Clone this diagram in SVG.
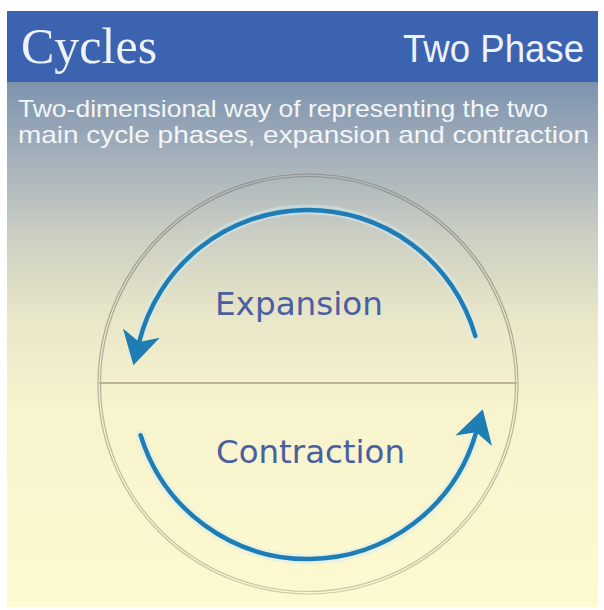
<svg xmlns="http://www.w3.org/2000/svg" width="604" height="610" viewBox="0 0 604 610">
  <defs>
    <linearGradient id="bg" x1="0" y1="82" x2="0" y2="607" gradientUnits="userSpaceOnUse">
      <stop offset="0" stop-color="#7d93ae"/>
      <stop offset="0.14" stop-color="#a3b0bb"/>
      <stop offset="0.3" stop-color="#cdd0c3"/>
      <stop offset="0.45" stop-color="#e9e7c9"/>
      <stop offset="0.62" stop-color="#f7f3cd"/>
      <stop offset="1" stop-color="#fdf9d0"/>
    </linearGradient>
    <linearGradient id="ring" x1="0" y1="174" x2="0" y2="594" gradientUnits="userSpaceOnUse">
      <stop offset="0" stop-color="#8e9290"/>
      <stop offset="0.5" stop-color="#b4ae98"/>
      <stop offset="1" stop-color="#cfc6a6"/>
    </linearGradient>
    <marker id="arrow" markerUnits="userSpaceOnUse" markerWidth="40" markerHeight="44" viewBox="0 -22 40 44" refX="9" refY="0" orient="auto">
      <path d="M0,-19 L33,0 L0,19 L9,0 Z" fill="#1f7db6"/>
    </marker>
    <style>
      .title { font-family: "Liberation Serif", "Times New Roman", serif; font-size: 50px; fill: #eef2fa; }
      .phase { font-family: "Liberation Sans", Arial, sans-serif; font-size: 38px; fill: #eef2fa; }
      .sub { font-family: "Liberation Sans", Arial, sans-serif; font-size: 24px; fill: #f3f5f6; }
      .label { font-family: "DejaVu Sans", Verdana, sans-serif; font-size: 32px; fill: #4a5ea2; }
      .ring { fill: none; stroke: url(#ring); stroke-width: 1.2; }
      .flow { fill: none; stroke: #1f7db6; stroke-width: 4.5; stroke-linecap: round; marker-end: url(#arrow); }
      .halo { fill: none; stroke: #d6ecef; stroke-width: 10; stroke-opacity: 0.5; stroke-linecap: round; }
    </style>
  </defs>

  <rect x="0" y="0" width="604" height="610" fill="#ffffff"/>
  <rect id="panel" x="7" y="82" width="591" height="525" fill="url(#bg)"/>

  <g id="header">
    <rect x="7" y="11" width="591" height="71" fill="#3c63b0"/>
    <text class="title" x="21" y="63">Cycles</text>
    <text class="phase" x="403" y="62" textLength="181" lengthAdjust="spacingAndGlyphs">Two Phase</text>
  </g>

  <g id="subtitle">
    <text class="sub" x="18" y="117" textLength="530" lengthAdjust="spacingAndGlyphs">Two-dimensional way of representing the two</text>
    <text class="sub" x="18" y="143" textLength="571" lengthAdjust="spacingAndGlyphs">main cycle phases, expansion and contraction</text>
  </g>

  <g id="cycle-circle">
    <circle class="ring" cx="308" cy="384" r="210"/>
    <circle class="ring" cx="308" cy="384" r="207.5"/>
    <line x1="99" y1="383" x2="517" y2="383" stroke="#bdb595" stroke-width="2"/>
  </g>

  <g id="connectors">
    <path class="halo" d="M475.3,336 A174,174 0 0 0 141.4,333.2"/>
    <path class="halo" d="M140.6,435.2 A175,175 0 0 0 473.7,440.9"/>
    <path id="expansion-arrow" class="flow" d="M475.3,336 A174,174 0 0 0 139.2,341.9"/>
    <path id="contraction-arrow" class="flow" d="M140.6,435.2 A175,175 0 0 0 476.2,432.2"/>
  </g>

  <g id="expansion">
    <text class="label" x="215" y="315" textLength="168" lengthAdjust="spacingAndGlyphs">Expansion</text>
  </g>

  <g id="contraction">
    <text class="label" x="216" y="463" textLength="189" lengthAdjust="spacingAndGlyphs">Contraction</text>
  </g>
</svg>
